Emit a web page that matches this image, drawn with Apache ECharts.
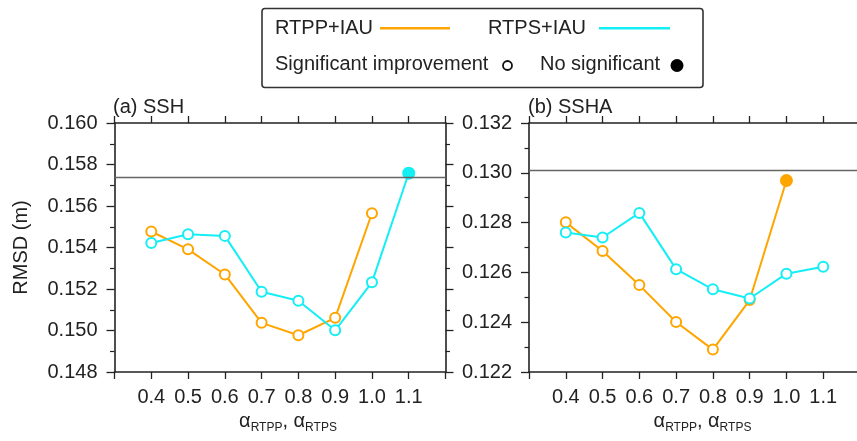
<!DOCTYPE html>
<html>
<head>
<meta charset="utf-8">
<script src="https://cdn.jsdelivr.net/npm/echarts@6/dist/echarts.min.js"></script>
<style>
html,body{margin:0;padding:0;background:#fff;}
#chart{width:857px;height:441px;}
</style>
</head>
<body>
<div id="chart"></div>
<script>
// ---- data ----
const alphas = [0.4, 0.5, 0.6, 0.7, 0.8, 0.9, 1.0, 1.1];
const sshRTPP = [0.15477, 0.15391, 0.15270, 0.15037, 0.14977, 0.15061, 0.15565];
const sshRTPS = [0.15422, 0.15464, 0.15456, 0.15187, 0.15143, 0.15001, 0.15232, 0.15758];
const sshaRTPP = [0.12801, 0.12686, 0.12549, 0.12401, 0.12290, 0.12489, 0.12969];
const sshaRTPS = [0.12760, 0.12740, 0.12839, 0.12613, 0.12532, 0.12495, 0.12595, 0.12623];
const sshRTPPSig = [true, true, true, true, true, true, true];
const sshRTPSSig = [true, true, true, true, true, true, true, false];
const sshaRTPPSig = [true, true, true, true, true, true, false];
const sshaRTPSSig = [true, true, true, true, true, true, true, true];
const refSSH = 0.15739;
const refSSHA = 0.13012;
const yTicksSSH = [0.148, 0.160, 0.002];
const yTicksSSHA = [0.122, 0.132, 0.002];
const seriesNames = ['RTPP+IAU', 'RTPS+IAU'];
const panelTitles = ['(a) SSH', '(b) SSHA'];

// ---- styles ----
const ORANGE = '#ffa500';
const CYAN = '#14eef4';
const FONT = '"Liberation Sans", Arial, Helvetica, sans-serif';
const TXT = '#222';
const AX = '#222';

function pts(vals, sig, color) {
  return vals.map((v, i) => {
    const p = { value: [alphas[i], v] };
    if (!sig[i]) {
      p.itemStyle = { color: color, borderColor: color };
      p.symbolSize = 11;
    }
    return p;
  });
}

function xAxes(gi) {
  const common = {
    type: 'value', gridIndex: gi, min: 0.3, max: 1.2, interval: 0.1,
    axisLine: { show: true, onZero: false, lineStyle: { color: AX, width: 1.6 } },
    axisTick: { show: true, inside: false, length: 7, lineStyle: { color: AX, width: 1.3 } },
    splitLine: { show: false }
  };
  return [
    Object.assign({}, common, {
      position: 'bottom',
      axisLabel: {
        show: true, margin: 15, fontSize: 20, color: TXT, fontFamily: FONT,
        formatter: v => (v < 0.35 || v > 1.15) ? '' : v.toFixed(1)
      },
      name: '{a|α}{s|RTPP}{a|, α}{s|RTPS}',
      nameLocation: 'middle', nameGap: 33,
      nameTextStyle: {
        padding: [0, 0, 0, 16],
        rich: {
          a: { fontSize: 20, fontFamily: FONT, color: TXT, lineHeight: 24 },
          s: { fontSize: 12, fontFamily: FONT, color: TXT, lineHeight: 10, verticalAlign: 'bottom' }
        }
      }
    }),
    Object.assign({}, common, { position: 'top', axisLabel: { show: false } })
  ];
}

function yAxes(gi, t, withName, showRight) {
  const common = {
    type: 'value', gridIndex: gi, min: t[0], max: t[1], interval: t[2],
    axisLine: { show: true, onZero: false, lineStyle: { color: AX, width: 1.6 } },
    axisTick: { show: true, inside: false, length: 8, lineStyle: { color: AX, width: 1.3 } },
    minorTick: { show: true, splitNumber: 2, length: 4.5, lineStyle: { color: AX, width: 1.2 } },
    splitLine: { show: false }, minorSplitLine: { show: false }
  };
  const left = Object.assign({}, common, {
    position: 'left',
    axisLabel: { show: true, margin: 17, fontSize: 20, color: TXT, fontFamily: FONT, formatter: v => v.toFixed(3) }
  });
  if (withName) {
    left.name = 'RMSD (m)';
    left.nameLocation = 'middle';
    left.nameGap = 83;
    left.nameTextStyle = { fontSize: 20, fontFamily: FONT, color: TXT };
  }
  const right = Object.assign({}, common, { position: 'right', show: showRight, axisLabel: { show: false } });
  return [left, right];
}

function lineSeries(name, vals, sig, color, xi, yi, ref) {
  const s = {
    name: name, type: 'line', xAxisIndex: xi, yAxisIndex: yi,
    data: pts(vals, sig, color),
    symbol: 'circle', symbolSize: 10, showAllSymbol: true,
    lineStyle: { color: color, width: 2 },
    itemStyle: { color: '#fff', borderColor: color, borderWidth: 2 },
    emphasis: { disabled: true },
    animation: false, z: 3
  };
  if (ref !== undefined) {
    s.markLine = {
      silent: true, symbol: 'none', animation: false, precision: 6,
      label: { show: false },
      lineStyle: { color: '#666', width: 1.3, type: 'solid' },
      data: [{ yAxis: ref }]
    };
  }
  return s;
}

const legendY1 = 28.3, legendY2 = 64;
const graphics = [
  { type: 'rect', shape: { x: 262, y: 8.5, width: 441, height: 79, r: 3 },
    style: { fill: '#fff', stroke: '#333', lineWidth: 1.6 } },
  { type: 'text', x: 275, y: legendY1, style: { text: seriesNames[0], font: '20px ' + FONT, fill: TXT, verticalAlign: 'middle' } },
  { type: 'line', shape: { x1: 380, y1: legendY1, x2: 450, y2: legendY1 }, style: { stroke: ORANGE, lineWidth: 2.5 } },
  { type: 'text', x: 488, y: legendY1, style: { text: seriesNames[1], font: '20px ' + FONT, fill: TXT, verticalAlign: 'middle' } },
  { type: 'line', shape: { x1: 599, y1: legendY1, x2: 670, y2: legendY1 }, style: { stroke: CYAN, lineWidth: 2.5 } },
  { type: 'text', x: 275, y: legendY2, style: { text: 'Significant improvement', font: '20px ' + FONT, fill: TXT, verticalAlign: 'middle' } },
  { type: 'circle', shape: { cx: 507.5, cy: 65.5, r: 4.5 }, style: { fill: '#fff', stroke: '#111', lineWidth: 1.8 } },
  { type: 'text', x: 540, y: legendY2, style: { text: 'No significant', font: '20px ' + FONT, fill: TXT, verticalAlign: 'middle' } },
  { type: 'circle', shape: { cx: 677, cy: 65.5, r: 6.5 }, style: { fill: '#000' } },
  { type: 'text', x: 113, y: 107, style: { text: panelTitles[0], font: '20px ' + FONT, fill: TXT, verticalAlign: 'middle' } },
  { type: 'text', x: 528, y: 107, style: { text: panelTitles[1], font: '20px ' + FONT, fill: TXT, verticalAlign: 'middle' } }
];

const chart = echarts.init(document.getElementById('chart'), null, { renderer: 'canvas' });
chart.setOption({
  backgroundColor: '#fff',
  animation: false,
  textStyle: { fontFamily: FONT },
  grid: [
    { left: 114.5, top: 123, width: 331, height: 249, containLabel: false, outerBoundsMode: 'none' },
    { left: 529, top: 123, width: 331, height: 249, containLabel: false, outerBoundsMode: 'none' }
  ],
  xAxis: [...xAxes(0), ...xAxes(1)],
  yAxis: [...yAxes(0, yTicksSSH, true, true), ...yAxes(1, yTicksSSHA, false, false)],
  graphic: graphics,
  series: [
    lineSeries(seriesNames[0], sshRTPP, sshRTPPSig, ORANGE, 0, 0, refSSH),
    lineSeries(seriesNames[1], sshRTPS, sshRTPSSig, CYAN, 0, 0),
    lineSeries(seriesNames[0], sshaRTPP, sshaRTPPSig, ORANGE, 2, 2, refSSHA),
    lineSeries(seriesNames[1], sshaRTPS, sshaRTPSSig, CYAN, 2, 2)
  ]
});
</script>
</body>
</html>
